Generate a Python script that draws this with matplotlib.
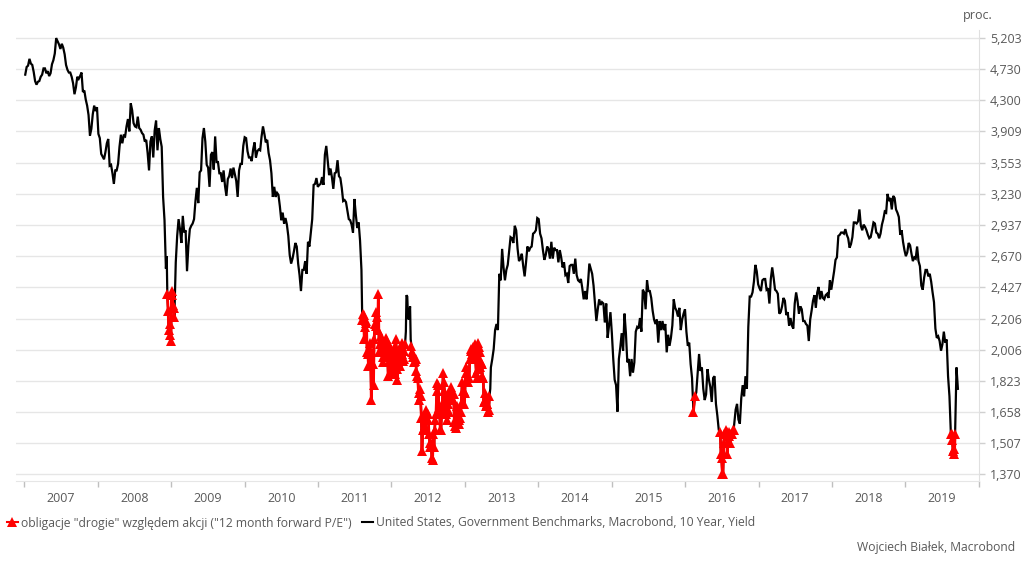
import matplotlib
matplotlib.use("Agg")
import matplotlib.pyplot as plt
import matplotlib.dates as mdates
import matplotlib.ticker as mticker
from matplotlib.lines import Line2D
import pandas as pd

# ---------------- data (weekly, Friday closes) ----------------
y2007 = [4.65, 4.76, 4.78, 4.88, 4.81, 4.79, 4.69, 4.56, 4.51, 4.55, 4.56, 4.62, 4.65,
         4.74, 4.74, 4.67, 4.70, 4.63, 4.67, 4.80, 4.86, 4.96, 5.20, 5.15, 5.10, 5.03,
         5.11, 5.05, 4.95, 4.79, 4.72, 4.68, 4.68, 4.62, 4.53, 4.38, 4.47, 4.62, 4.59,
         4.63, 4.68, 4.41, 4.43, 4.31, 4.23, 4.11, 3.86, 3.94, 4.12, 4.23, 4.16, 4.21]
y2008 = [3.88, 3.83, 3.65, 3.62, 3.59, 3.67, 3.77, 3.82, 3.52, 3.53, 3.44, 3.33, 3.47,
         3.47, 3.54, 3.73, 3.87, 3.77, 3.86, 3.85, 3.97, 4.06, 3.91, 4.26, 4.17, 4.01,
         3.97, 3.96, 4.09, 3.95, 3.93, 3.89, 3.87, 3.79, 3.81, 3.66, 3.47, 3.79, 3.85,
         3.61, 3.92, 4.04, 3.69, 3.95, 3.82, 3.73, 3.20, 2.98, 2.57, 2.38, 2.13, 2.10]
y2009 = [2.40, 2.30, 2.22, 2.62, 2.84, 2.99, 2.90, 2.78, 3.02, 2.87, 2.89, 2.55, 2.76,
         2.90, 2.93, 2.95, 2.99, 3.16, 3.29, 3.14, 3.45, 3.47, 3.83, 3.95, 3.79, 3.53,
         3.50, 3.30, 3.64, 3.67, 3.48, 3.85, 3.56, 3.56, 3.44, 3.44, 3.35, 3.47, 3.31,
         3.21, 3.38, 3.41, 3.49, 3.39, 3.50, 3.43, 3.36, 3.20, 3.47, 3.54, 3.54, 3.74]
y2010 = [3.84, 3.83, 3.68, 3.61, 3.61, 3.57, 3.70, 3.78, 3.61, 3.68, 3.70, 3.69, 3.85,
         3.97, 3.88, 3.78, 3.81, 3.66, 3.58, 3.44, 3.20, 3.30, 3.20, 3.24, 3.22, 3.11,
         2.98, 3.05, 2.95, 3.00, 2.94, 2.84, 2.68, 2.61, 2.65, 2.71, 2.78, 2.75, 2.61,
         2.52, 2.40, 2.56, 2.56, 2.63, 2.53, 2.79, 2.75, 2.87, 2.99, 3.32, 3.33, 3.39, 3.30]
y2011 = [3.32, 3.33, 3.40, 3.32, 3.64, 3.74, 3.58, 3.42, 3.49, 3.40, 3.28, 3.44,
         3.45, 3.58, 3.41, 3.39, 3.29, 3.16, 3.17, 3.15, 3.07, 2.99, 2.98, 2.94, 2.87,
         3.18, 3.03, 2.91, 2.96, 2.80, 2.56, 2.24, 2.07, 2.19, 1.99, 1.91, 2.05, 1.72,
         1.92, 2.07, 2.25, 2.22, 2.38, 2.04, 2.04, 1.96, 1.96, 2.04, 2.06, 1.85, 2.02, 1.88]
y2012 = [1.96, 1.87, 2.03, 1.89, 1.93, 1.99, 2.01, 1.98, 2.00, 2.04, 2.37, 2.24, 2.23,
         2.07, 1.99, 1.96, 1.94, 1.88, 1.84, 1.72, 1.74, 1.47, 1.64, 1.59, 1.67, 1.65,
         1.55, 1.49, 1.44, 1.55, 1.57, 1.65, 1.81, 1.68, 1.57, 1.67, 1.87, 1.77, 1.65,
         1.74, 1.66, 1.77, 1.75, 1.72, 1.61, 1.58, 1.69, 1.62, 1.63, 1.70, 1.77, 1.70]
y2013 = [1.90, 1.87, 1.84, 1.95, 2.01, 1.95, 2.00, 1.97, 1.84, 2.05, 1.99, 1.93, 1.85,
         1.71, 1.72, 1.70, 1.66, 1.74, 1.90, 1.95, 2.01, 2.13, 2.17, 2.13, 2.53, 2.48,
         2.73, 2.58, 2.48, 2.56, 2.60, 2.71, 2.83, 2.82, 2.78, 2.93, 2.89, 2.73, 2.63,
         2.65, 2.69, 2.59, 2.51, 2.62, 2.75, 2.71, 2.74, 2.75, 2.86, 2.87, 2.89, 3.00]
y2014 = [2.99, 2.86, 2.82, 2.72, 2.64, 2.68, 2.75, 2.73, 2.65, 2.79, 2.65, 2.74, 2.72,
         2.72, 2.62, 2.72, 2.66, 2.58, 2.62, 2.52, 2.53, 2.46, 2.59, 2.60, 2.60, 2.53,
         2.65, 2.52, 2.48, 2.47, 2.49, 2.42, 2.34, 2.40, 2.34, 2.45, 2.61, 2.57, 2.53,
         2.44, 2.31, 2.19, 2.27, 2.34, 2.30, 2.32, 2.31, 2.18, 2.31, 2.08, 2.16, 2.25]
y2015 = [2.11, 1.95, 1.83, 1.80, 1.66, 1.95, 2.02, 2.11, 2.00, 2.24, 2.11, 1.93, 1.95,
         1.85, 1.95, 1.87, 1.93, 2.12, 2.15, 2.14, 2.21, 2.12, 2.41, 2.39, 2.27, 2.48,
         2.40, 2.40, 2.35, 2.26, 2.20, 2.17, 2.20, 2.05, 2.19, 2.13, 2.19, 2.13, 2.17,
         1.99, 2.10, 2.03, 2.08, 2.16, 2.34, 2.28, 2.26, 2.22, 2.28, 2.13, 2.20, 2.24]
y2016 = [2.27, 2.12, 2.03, 2.05, 1.92, 1.84, 1.66, 1.74, 1.76, 1.87, 1.98, 1.88, 1.90,
         1.78, 1.72, 1.75, 1.89, 1.83, 1.79, 1.71, 1.84, 1.85, 1.70, 1.64, 1.57, 1.56,
         1.44, 1.37, 1.55, 1.57, 1.46, 1.56, 1.51, 1.55, 1.57, 1.60, 1.67, 1.70, 1.62,
         1.60, 1.73, 1.80, 1.74, 1.85, 1.78, 2.15, 2.36, 2.36, 2.39, 2.47, 2.60, 2.55, 2.45]
y2017 = [2.42, 2.40, 2.48, 2.49, 2.49, 2.41, 2.42, 2.31, 2.49, 2.58, 2.50, 2.41, 2.40,
         2.38, 2.24, 2.25, 2.29, 2.35, 2.33, 2.23, 2.25, 2.16, 2.21, 2.16, 2.14, 2.31,
         2.39, 2.33, 2.24, 2.29, 2.27, 2.19, 2.19, 2.17, 2.16, 2.06, 2.20, 2.26, 2.33,
         2.37, 2.28, 2.39, 2.43, 2.34, 2.40, 2.35, 2.34, 2.37, 2.38, 2.35, 2.48, 2.41]
y2018 = [2.48, 2.55, 2.64, 2.66, 2.84, 2.85, 2.87, 2.87, 2.86, 2.90, 2.85, 2.82, 2.74,
         2.77, 2.83, 2.96, 2.96, 2.95, 2.97, 3.08, 2.93, 2.89, 2.94, 2.92, 2.89, 2.85,
         2.82, 2.83, 2.89, 2.96, 2.95, 2.87, 2.86, 2.82, 2.86, 2.94, 2.99, 3.06, 3.05,
         3.23, 3.16, 3.19, 3.08, 3.21, 3.19, 3.08, 3.05, 3.01, 2.85, 2.89, 2.79, 2.72]
y2019 = [2.67, 2.70, 2.78, 2.76, 2.69, 2.63, 2.66, 2.65, 2.75, 2.63, 2.59, 2.44, 2.41,
         2.50, 2.56, 2.56, 2.51, 2.53, 2.47, 2.39, 2.32, 2.14, 2.08, 2.09, 2.06, 2.00,
         2.04, 2.12, 2.05, 2.07, 1.85, 1.74, 1.55, 1.52, 1.48, 1.55, 1.90, 1.78]

# extra mid-week (Tuesday) readings around the low-yield episodes
tue_2008 = [2.67, 2.26, 2.17, 2.06]                       # from 2008-12-09
tue_2009 = [2.37, 2.28]                                   # from 2009-01-06
tue_2011 = [2.20, 2.23, 2.15, 2.18, 1.98, 1.98, 1.94, 1.99, 1.80, 2.17, 2.16,
            2.13, 1.99, 2.09, 2.06, 1.93, 1.99, 2.08, 1.97, 1.93, 2.02]   # from 2011-08-09
tue_2012 = [1.99, 1.97, 1.86, 2.07, 1.83, 2.00, 1.91, 2.05, 1.94, 1.95, 2.12, 2.36,
            2.20, 2.29, 2.03, 1.98, 1.93, 1.95, 1.85, 1.76, 1.78, 1.63, 1.57, 1.58,
            1.62, 1.62, 1.62, 1.51, 1.51, 1.43, 1.49, 1.62, 1.77, 1.80, 1.66, 1.57,
            1.70, 1.82, 1.66, 1.62, 1.70, 1.74, 1.79, 1.73, 1.75, 1.59, 1.66, 1.64,
            1.60, 1.66, 1.82, 1.77]                        # from 2012-01-03
tue_2013 = [1.76, 1.87, 1.82, 1.84, 2.00, 1.98, 2.02, 2.04, 1.87, 1.89, 2.02, 1.90,
            1.92, 1.84, 1.76, 1.69, 1.70, 1.67, 1.78]      # from 2013-01-01
tue_2016 = [1.46, 1.37, 1.51, 1.55, 1.56, 1.55, 1.54, 1.55, 1.55, 1.57]  # from 2016-06-28
tue_2019 = [1.55, 1.47, 1.46]                             # from 2019-08-20
extra_start = ["2008-12-09", "2009-01-06", "2011-08-09", "2012-01-03", "2013-01-01",
               "2016-06-28", "2019-08-20"]

# periods when bonds were "expensive" relative to equities (red markers)
expensive_start = ["2008-12-10", "2011-08-08", "2012-04-09", "2016-02-09", "2016-06-22", "2019-08-14"]
expensive_end   = ["2009-01-18", "2012-03-11", "2013-05-06", "2016-02-20", "2016-09-01", "2019-09-08"]

years = list(range(2007, 2020))
yticks = [1.370, 1.507, 1.658, 1.823, 2.006, 2.206, 2.427, 2.670, 2.937, 3.230,
          3.553, 3.909, 4.300, 4.730, 5.203]
label_red = 'obligacje "drogie" względem akcji ("12 month forward P/E")'
label_black = "United States, Government Benchmarks, Macrobond, 10 Year, Yield"
source = "Wojciech Białek, Macrobond"

# ---------------- build series ----------------
parts = []
for yr, vals in zip(years, [y2007, y2008, y2009, y2010, y2011, y2012, y2013,
                             y2014, y2015, y2016, y2017, y2018, y2019]):
    idx = pd.date_range(f"{yr}-01-01", periods=len(vals), freq="W-FRI")
    parts.append(pd.Series(vals, index=idx))
for st, vals in zip(extra_start, [tue_2008, tue_2009, tue_2011, tue_2012, tue_2013,
                                  tue_2016, tue_2019]):
    idx = pd.date_range(st, periods=len(vals), freq="W-TUE")
    parts.append(pd.Series(vals, index=idx))
s = pd.concat(parts).sort_index()

mask = pd.Series(False, index=s.index)
for a, b in zip(expensive_start, expensive_end):
    mask |= (s.index >= pd.Timestamp(a)) & (s.index <= pd.Timestamp(b))
red = s.where(mask)

# ---------------- figure ----------------
plt.rcParams["font.family"] = ["Open Sans", "DejaVu Sans"]
W, H = 1024, 565
fig = plt.figure(figsize=(W / 100, H / 100), dpi=100)
ax = fig.add_axes([16 / W, 1 - 481 / H, (979 - 16) / W, (481 - 30) / H])

grid_c = "#e6e6e6"
txt_c = "#595959"

ax.set_yscale("log")
ax.yaxis.set_major_locator(mticker.FixedLocator(yticks))
ax.yaxis.set_minor_locator(mticker.NullLocator())
ax.yaxis.set_major_formatter(mticker.FuncFormatter(lambda v, p: f"{v:.3f}".replace(".", ",")))
ax.set_ylim(1.343, 5.33)
ax.grid(axis="y", color=grid_c, lw=1.0)
ax.set_axisbelow(True)

ax.plot(s.index, s.values, color="black", lw=1.6, zorder=3, solid_joinstyle="miter")
ax.plot(red.index, red.values, color="red", lw=2.0, marker="^", ms=6.5,
        markeredgewidth=0, zorder=4)

ax.set_xlim(pd.Timestamp("2006-11-20"), pd.Timestamp("2020-01-03"))
ax.xaxis.set_major_locator(mdates.YearLocator())
ax.xaxis.set_major_formatter(mticker.NullFormatter())
ax.xaxis.set_minor_locator(mdates.MonthLocator(bymonth=7, bymonthday=2))
ax.xaxis.set_minor_formatter(mdates.DateFormatter("%Y"))
ax.tick_params(axis="x", which="major", length=4, color="#bfbfbf", width=1)
ax.tick_params(axis="x", which="minor", length=0, labelsize=9, labelcolor=txt_c, pad=8)

ax.yaxis.tick_right()
ax.tick_params(axis="y", which="major", length=4, color="#d0d0d0", width=1,
               labelsize=9, labelcolor=txt_c, pad=4)

for sp in ["top", "left"]:
    ax.spines[sp].set_visible(False)
ax.spines["right"].set_color("#e0e0e0")
ax.spines["bottom"].set_color("#e6e6e6")

fig.text(993 / W, 1 - 15 / H, "proc.", ha="right", va="center", fontsize=9, color=txt_c)

h1 = Line2D([], [], color="red", lw=1.5, marker="^", ms=6.5, markeredgewidth=0)
h2 = Line2D([], [], color="black", lw=1.5)
leg = fig.legend([h1, h2], [label_red, label_black], loc="center left",
                 bbox_to_anchor=(7 / W, 1 - 523 / H), ncol=2, frameon=False,
                 fontsize=8.7, handlelength=0.9, handletextpad=0.25, columnspacing=0.9,
                 borderaxespad=0, borderpad=0)
for t in leg.get_texts():
    t.set_color(txt_c)

fig.text(1015 / W, 1 - 548 / H, source, ha="right", va="center", fontsize=8.7, color=txt_c)

fig.savefig("out.png", dpi=100)
